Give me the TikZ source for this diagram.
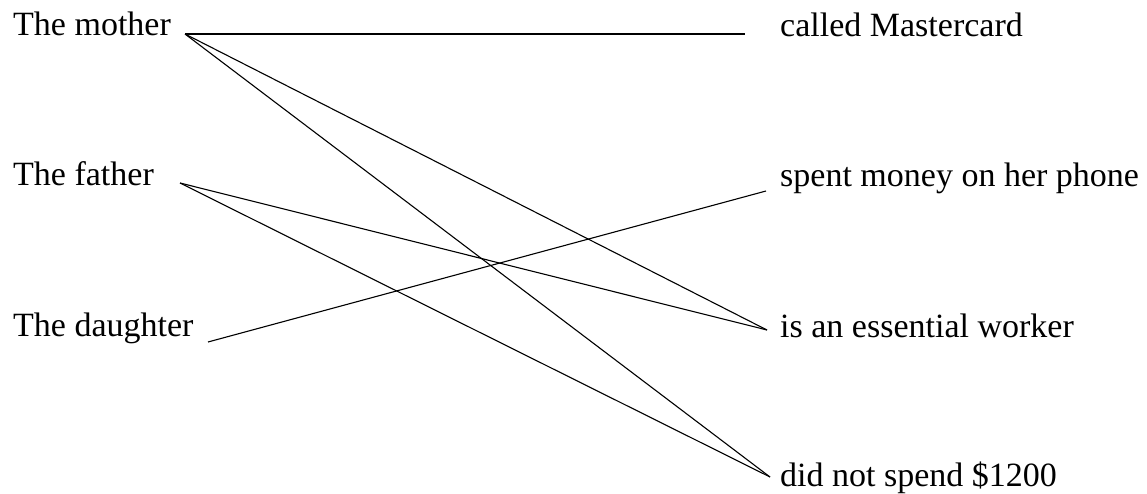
\documentclass[tikz,border=0pt]{standalone}
\usepackage{fontspec}
\setmainfont{Liberation Serif}
\begin{document}
\begin{tikzpicture}[
		x=1pt, y=-1pt,
		every node/.style={anchor=base west, inner sep=0pt, font=\fontsize{34}{40}\selectfont},
		link/.style={draw, line width=1.1pt}
	]
	\useasboundingbox (0,0) rectangle (1147,494);
	% left column
	\node (mother) at (13,36) {The mother};
	\node (father) at (13,186) {The father};
	\node (daughter) at (13,336) {The daughter};
	% right column
	\node (master) at (780,37) {called Mastercard};
	\node (phone) at (780,187) {spent money on her phone};
	\node (worker) at (780,337) {is an essential worker};
	\node (spend) at (780,486) {did not spend \$1200};
	% line ends
	\coordinate (mother-r) at (185,34);
	\coordinate (father-r) at (180,183);
	\coordinate (daughter-r) at (208,342);
	\coordinate (master-l) at (745,34);
	\coordinate (phone-l) at (766,191);
	\coordinate (worker-l) at (767,330);
	\coordinate (spend-l) at (770,477);
	% links
	\path[link] (mother-r) -- (master-l);
	\path[link] (mother-r) -- (worker-l);
	\path[link] (mother-r) -- (spend-l);
	\path[link] (father-r) -- (worker-l);
	\path[link] (father-r) -- (spend-l);
	\path[link] (daughter-r) -- (phone-l);
\end{tikzpicture}
\end{document}
